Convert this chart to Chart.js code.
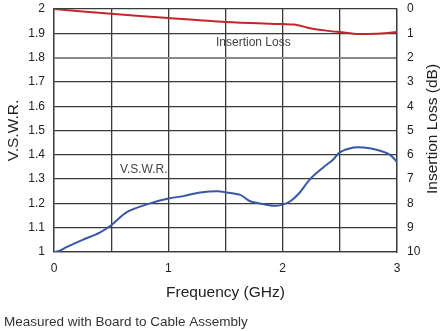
<!DOCTYPE html>
<html lang="en">
  <head>
    <meta charset="UTF-8" />
    <script src="https://cdn.jsdelivr.net/npm/chart.js@4.4.0/dist/chart.umd.min.js"></script>
    <title>VSWR / Insertion Loss</title>
    <style>
      html, body { margin: 0; padding: 0; background: #fff; }
      #wrap { width: 445px; height: 331px; }
    </style>
  </head>
  <body>
    <div id="wrap"><canvas id="myChart" width="445" height="331"></canvas></div>
    <script>
      // values
      const vswrFreq = [0, 0.05, 0.11, 0.25, 0.4, 0.5, 0.64, 0.84, 1.0, 1.13, 1.28, 1.43, 1.51, 1.63, 1.71, 1.8, 1.92, 2.0, 2.07, 2.15, 2.24, 2.36, 2.44, 2.5, 2.62, 2.71, 2.83, 2.94, 3.0];
      const vswr = [1.0, 1.005, 1.02, 1.05, 1.08, 1.11, 1.165, 1.2, 1.22, 1.23, 1.245, 1.25, 1.245, 1.235, 1.21, 1.2, 1.19, 1.195, 1.21, 1.245, 1.3, 1.35, 1.38, 1.41, 1.43, 1.43, 1.42, 1.4, 1.37];
      const lossFreq = [0, 0.5, 1.0, 1.5, 2.0, 2.1, 2.25, 2.4, 2.5, 2.67, 2.8, 3.0];
      const loss = [0, 0.2, 0.37, 0.53, 0.62, 0.64, 0.8, 0.9, 0.95, 1.03, 1.02, 0.95];
      const xTicks = [0, 1, 2, 3];

      const pts = (xs, ys) => xs.map((x, i) => ({ x: x, y: ys[i] }));
      const font = "'Liberation Sans', Arial, sans-serif";
      const grid = "#3a3a3a";

      const notes = {
        id: "notes",
        afterDraw(chart) {
          const c = chart.ctx;
          c.save();
          c.fillStyle = "#444";
          c.font = "12px " + font;
          c.textBaseline = "middle";
          c.textAlign = "left";
          c.fillText("Insertion Loss", 216, 43);
          c.fillText("V.S.W.R.", 120, 170);
          c.fillStyle = "#333";
          c.font = "13.5px " + font;
          c.fillText("Measured with Board to Cable Assembly", 4, 322);
          // right axis title reads bottom to top
          c.fillStyle = "#222";
          c.font = "15.5px " + font;
          c.translate(433, 129);
          c.rotate(-Math.PI / 2);
          c.textAlign = "center";
          c.fillText("Insertion Loss (dB)", 0, 0);
          c.restore();
        },
      };

      // keep the tick labels from pushing the plot area down
      const noPad = (s) => { s.paddingTop = 0; s.paddingBottom = 0; };

      const ctx = document.getElementById("myChart").getContext("2d");
      const myChart = new Chart(ctx, {
        type: "line",
        data: {
          datasets: [
            {
              label: "Insertion Loss",
              data: pts(lossFreq, loss),
              yAxisID: "yR",
              borderColor: "#c4262e",
              borderWidth: 2,
              pointRadius: 0,
              tension: 0.3,
            },
            {
              label: "V.S.W.R.",
              data: pts(vswrFreq, vswr),
              yAxisID: "y",
              borderColor: "#3857a6",
              borderWidth: 2,
              pointRadius: 0,
              tension: 0.3,
            },
          ],
        },
        plugins: [notes],
        options: {
          responsive: false,
          animation: false,
          layout: { padding: { top: 9, bottom: 25, left: 0, right: 0 } },
          plugins: { legend: { display: false }, tooltip: { enabled: false } },
          scales: {
            x: {
              type: "linear",
              min: 0,
              max: 3,
              afterBuildTicks: (s) => {
                s.ticks = [0, 0.5, 1, 1.5, 2, 2.5, 3].map((v) => ({ value: v }));
              },
              afterFit: (s) => { s.height = 54; },
              grid: { color: grid, lineWidth: 1.3, drawTicks: false },
              border: { color: grid, width: 1.3 },
              ticks: {
                padding: 9,
                color: "#222",
                font: { family: font, size: 12 },
                maxRotation: 0,
                callback: (v) => (xTicks.includes(v) ? String(v) : ""),
              },
              title: {
                display: true,
                text: "Frequency (GHz)",
                color: "#222",
                font: { family: font, size: 15.5 },
                padding: { top: 11 },
              },
            },
            y: {
              position: "left",
              min: 1,
              max: 2,
              afterFit: (s) => { s.width = 54; noPad(s); },
              grid: {
                color: (c) => (Math.abs(c.tick.value - 1.8) < 1e-6 ? "#8a8a8a" : grid),
                lineWidth: (c) => (Math.abs(c.tick.value - 1.8) < 1e-6 ? 2 : 1.3),
                drawTicks: false,
              },
              border: { color: grid, width: 1.3 },
              ticks: {
                stepSize: 0.1,
                padding: 9,
                color: "#222",
                font: { family: font, size: 12 },
                callback: (v) => String(Math.round(v * 10) / 10),
              },
              title: {
                display: true,
                text: "V.S.W.R.",
                color: "#222",
                font: { family: font, size: 15.5 },
                padding: { bottom: 0 },
              },
            },
            yR: {
              position: "right",
              min: 0,
              max: 10,
              reverse: true,
              afterFit: (s) => { s.width = 48; noPad(s); },
              grid: { drawOnChartArea: false, drawTicks: false },
              border: { color: grid, width: 1.3 },
              ticks: {
                stepSize: 1,
                padding: 10,
                color: "#222",
                font: { family: font, size: 12 },
              },
            },
          },
        },
      });
    </script>
  </body>
</html>
